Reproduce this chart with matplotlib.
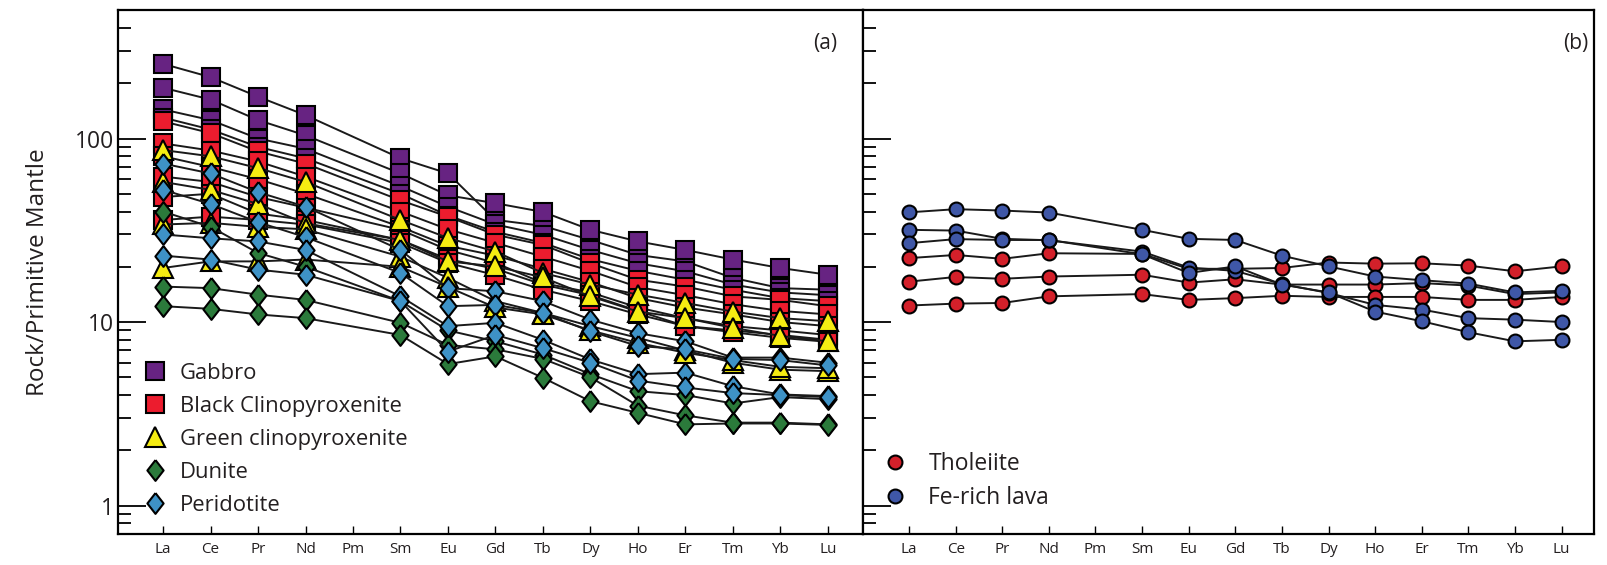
import matplotlib.pyplot as plt
from matplotlib.lines import Line2D
from matplotlib.ticker import LogLocator, NullFormatter, FixedLocator
import numpy as np

plt.rcParams['font.family'] = ['Open Sans', 'DejaVu Sans']
TXT = '#231f20'

# Elementos (tierras raras), Pm sin dato
elementos = ['La', 'Ce', 'Pr', 'Nd', 'Pm', 'Sm', 'Eu', 'Gd', 'Tb', 'Dy', 'Ho', 'Er', 'Tm', 'Yb', 'Lu']
nan = np.nan

# Panel (a)
gabbro = [
    [255, 216, 169, 134, nan, 78, 64.5, 36, 33.4, 28, 23.2, 21.4, 17.4, 15.3, 15],
    [189, 163, 126, 104, nan, 64.5, 49, 44.4, 39.8, 31.8, 27.5, 24.7, 21.9, 19.7, 18.1],
    [144, 126, 100, 88, nan, 55, 42.5, 34, 29.9, 24.7, 20.9, 18.9, 16, 14.5, 14],
    [130, 112, 90, 78, nan, 50, 38, 31, 27, 22, 19, 17, 15, 13.5, 13],
]
black_cpx = [
    [124, 107, 85, 73, nan, 46, 37.5, 29.9, 26.3, 20.9, 17, 15.6, 13.8, 13.2, 12.2],
    [94, 86, 75, 62, nan, 40, 32, 27, 22.7, 19, 15.5, 14, 12.5, 11.5, 11],
    [80, 70, 60, 50, nan, 33, 26, 23, 19.5, 16.5, 13.5, 12, 11, 10, 9.5],
    [62, 58, 48, 42, nan, 31.8, 24.7, 21, 16.3, 14.5, 12, 10.5, 9.5, 9, 8.5],
    [48, 50, 39, 36, nan, 28, 22, 19.5, 16, 14, 11.5, 9.5, 9, 8.5, 8],
    [36, 37.5, 36, 34, nan, 27, 21, 18, 15, 13, 11, 9.5, 8.8, 8.2, 7.8],
]
green_cpx = [
    [86.5, 80, 69, 58, nan, 36, 28.7, 24.2, 18.5, 16, 14.1, 12.7, 11.4, 10.5, 10.1],
    [58, 52.5, 44, 34.5, nan, 28, 21.4, 20.1, 17.5, 13.8, 11.4, 10.5, 9.3, 8.4, 7.85],
    [34, 34.7, 33, 32, nan, 22.7, 17.4, 13, 11.2, 9.5, 8.2, 7, 6, 5.5, 5.4],
    [19.7, 21.4, 21.4, 21.9, nan, 20, 15.5, 12, 11, 9, 7.7, 6.8, 6.2, 5.7, 5.6],
]
dunite = [
    [40, 33, 23.8, 20, nan, 13, 9, 7.85, 6.65, 5.2, 4.2, 4.0, 3.6, 3.9, 3.8],
    [15.6, 15.3, 14.1, 13.2, nan, 9.9, 7.5, 7.1, 6.3, 5.0, 3.5, 3.1, 2.83, 2.83, 2.77],
    [12.2, 11.8, 11, 10.5, nan, 8.5, 5.9, 6.5, 4.97, 3.7, 3.2, 2.77, 2.8, 2.8, 2.75],
]
peridotite = [
    [73, 64.5, 51, 42.5, nan, 24.7, 15.3, 14.7, 13, 10.3, 8.7, 7.85, 6.4, 6.4, 6.0],
    [52.5, 44, 35, 29, nan, 18.5, 12.2, 12.4, 11.2, 8.9, 7.4, 7.1, 6.3, 6.2, 5.8],
    [30, 28.6, 27.5, 24.7, nan, 13.8, 9.5, 9.9, 8, 6.25, 5.2, 5.3, 4.47, 4.03, 3.95],
    [23, 21.9, 19.3, 18.1, nan, 13, 6.9, 8.5, 7.2, 6, 4.8, 4.4, 4.1, 4.0, 3.9],
]

# Panel (b)
tholeiite = [
    [22.3, 23.2, 22.1, 23.7, nan, 23.5, 19.5, 19.5, 19.7, 21.1, 20.8, 20.9, 20.3, 18.9, 20.1],
    [16.6, 17.6, 17.2, 17.7, nan, 18.1, 16.4, 17.1, 16.0, 16.0, 16.0, 16.3, 15.8, 14.2, 14.5],
    [12.3, 12.6, 12.7, 13.8, nan, 14.2, 13.2, 13.5, 13.9, 13.7, 13.7, 13.7, 13.2, 13.2, 13.7],
]
fe_lava = [
    [39.6, 41.2, 40.5, 39.5, nan, 31.8, 28.4, 28.0, 23.0, 20.1, 17.7, 16.9, 16.2, 14.5, 14.8],
    [31.8, 31.5, 28.4, 27.9, nan, 24.2, 19.8, 19.0, 16.1, 14.4, 12.4, 11.7, 10.5, 10.3, 10.0],
    [26.9, 28.3, 28.0, 28.0, nan, 23.4, 18.5, 20.1, 16.0, 14.5, 11.4, 10.1, 8.8, 7.85, 8.0],
]

diamante = [(0, 1), (0.78, 0), (0, -1), (-0.78, 0), (0, 1)]

grupos_a = [
    ('Gabbro', gabbro, 's', '#672382', 12.5),
    ('Black Clinopyroxenite', black_cpx, 's', '#ec1c2e', 12.5),
    ('Green clinopyroxenite', green_cpx, '^', '#f5ec12', 14),
    ('Dunite', dunite, diamante, '#2b7a3b', 15),
    ('Peridotite', peridotite, diamante, '#3e92c6', 15),
]
grupos_b = [
    ('Tholeiite', tholeiite, 'o', '#d3202a', 10),
    ('Fe-rich lava', fe_lava, 'o', '#3f57a7', 10),
]

fig = plt.figure(figsize=(16.07, 5.65), dpi=100)
ax1 = fig.add_axes([0.0734, 0.0549, 0.4636, 0.927])
ax2 = fig.add_axes([0.537, 0.0549, 0.4547, 0.927])

x = np.arange(len(elementos))


def dibujar(ax, grupos):
    handles = []
    for nombre, series, mk, color, ms in grupos:
        for s in series:
            v = np.array(s, dtype=float)
            ok = ~np.isnan(v)
            ax.plot(x[ok], v[ok], '-', color='#1a1a1a', lw=1.4, marker=mk, ms=ms,
                    mfc=color, mec='black', mew=1.5)
        handles.append(Line2D([], [], ls='none', marker=mk, ms=ms, mfc=color,
                              mec='black', mew=1.5, label=nombre))
    return handles


h1 = dibujar(ax1, grupos_a)
h2 = dibujar(ax2, grupos_b)

for ax, xl in [(ax1, (-0.95, 14.74)), (ax2, (-0.99, 14.69))]:
    ax.set_yscale('log')
    ax.set_ylim(0.7, 500)
    ax.set_xlim(*xl)
    ax.set_xticks(x)
    ax.set_xticklabels(elementos, fontsize=11, color=TXT)
    ax.yaxis.set_major_locator(FixedLocator([1, 10, 100]))
    ax.yaxis.set_minor_locator(LogLocator(base=10, subs=np.arange(2, 10)))
    ax.yaxis.set_minor_formatter(NullFormatter())
    ax.tick_params(axis='y', which='major', direction='in', length=20, width=1.3)
    ax.tick_params(axis='y', which='minor', direction='in', length=9.5, width=1.3)
    ax.tick_params(axis='x', which='major', direction='in', length=6, width=1.0,
                   pad=6)
    for sp in ax.spines.values():
        sp.set_linewidth(1.6)

ax1.set_yticklabels(['1', '10', '100'], fontsize=16.5, color=TXT)
ax1.tick_params(axis='y', which='major', pad=3)
ax2.tick_params(axis='y', which='both', labelleft=False)
ax1.set_ylabel('Rock/Primitive Mantle', fontsize=17.5, color=TXT, labelpad=18)

ax1.text(0.949, 0.937, '(a)', transform=ax1.transAxes, ha='center', va='center',
         fontsize=15, color=TXT)
ax2.text(0.975, 0.937, '(b)', transform=ax2.transAxes, ha='center', va='center',
         fontsize=15, color=TXT)

ax1.legend(handles=h1, loc='lower left', bbox_to_anchor=(0.008, 0.005), frameon=False,
           fontsize=15.8, labelspacing=0.55, handletextpad=0.45, handlelength=1.4,
           borderaxespad=0.3, labelcolor=TXT)
ax2.legend(handles=h2, loc='lower left', bbox_to_anchor=(0.0, 0.016), frameon=False,
           fontsize=16.5, labelspacing=0.42, handletextpad=0.75, handlelength=1.4,
           borderaxespad=0.3, labelcolor=TXT)

fig.savefig('out.png', dpi=100)
